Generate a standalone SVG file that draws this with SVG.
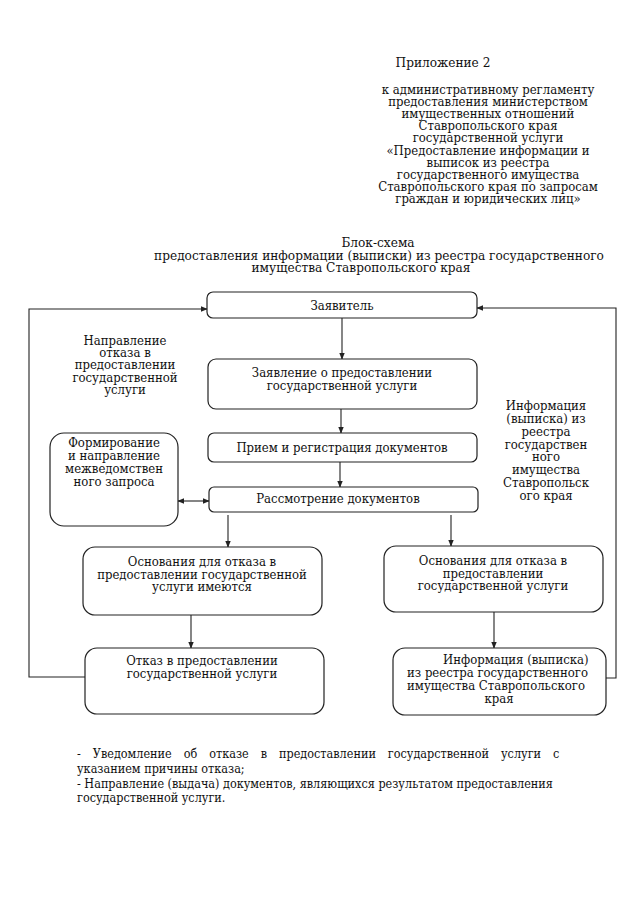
<svg xmlns="http://www.w3.org/2000/svg" width="639" height="905" viewBox="0 0 639 905" font-family="DejaVu Serif Condensed, DejaVu Serif, serif" font-stretch="condensed">
<style>
text{font-size:13px;fill:#111}
.c{text-anchor:middle}
.n{font-size:12.5px}
.t{font-size:13.5px}
.box{fill:#fff;stroke:#222;stroke-width:1.2}
.ln{fill:none;stroke:#222;stroke-width:1.1}
</style>
<defs>
<marker id="ah" viewBox="0 0 10 10" refX="9" refY="5" markerWidth="7" markerHeight="7" orient="auto-start-reverse" markerUnits="userSpaceOnUse">
<path d="M0,1 L10,5 L0,9 z" fill="#222"/>
</marker>
</defs>
<rect width="639" height="905" fill="#fff"/>

<g id="header">
<text x="443" y="67" class="c t">Приложение 2</text>
<text x="488" y="94" class="c">к административному регламенту</text>
<text x="488" y="106" class="c">предоставления министерством</text>
<text x="488" y="118" class="c">имущественных отношений</text>
<text x="488" y="130" class="c">Ставропольского края</text>
<text x="488" y="142" class="c">государственной услуги</text>
<text x="488" y="155" class="c">«Предоставление информации и</text>
<text x="488" y="167" class="c">выписок из реестра</text>
<text x="488" y="179" class="c">государственного имущества</text>
<text x="488" y="191" class="c">Ставропольского края по запросам</text>
<text x="488" y="203" class="c">граждан и юридических лиц»</text>
</g>

<g id="title">
<text x="378" y="247" class="c t">Блок-схема</text>
<text x="379" y="260" class="c t">предоставления информации (выписки) из реестра государственного</text>
<text x="361" y="272" class="c t">имущества Ставропольского края</text>
</g>

<g id="connectors">
<line class="ln" x1="342" y1="318" x2="342" y2="359" marker-end="url(#ah)"/>
<line class="ln" x1="341" y1="409" x2="341" y2="433" marker-end="url(#ah)"/>
<line class="ln" x1="340" y1="462" x2="340" y2="487" marker-end="url(#ah)"/>
<line class="ln" x1="178" y1="501" x2="209" y2="501" marker-start="url(#ah)" marker-end="url(#ah)"/>
<line class="ln" x1="228" y1="515" x2="228" y2="547" marker-end="url(#ah)"/>
<line class="ln" x1="451" y1="515" x2="451" y2="546" marker-end="url(#ah)"/>
<line class="ln" x1="191" y1="615" x2="191" y2="648" marker-end="url(#ah)"/>
<line class="ln" x1="494" y1="612" x2="494" y2="648" marker-end="url(#ah)"/>
<polyline class="ln" points="85,677 29,677 29,309 207,309" marker-end="url(#ah)"/>
<polyline class="ln" points="606,678 616,678 616,308 477,308" marker-end="url(#ah)"/>
</g>

<g id="n-applicant">
<rect class="box" x="207" y="292" width="270" height="26" rx="6"/>
<text x="342" y="310" class="c">Заявитель</text>
</g>

<g id="n-label-left">
<text x="125" y="345" class="c">Направление</text>
<text x="125" y="357" class="c">отказа в</text>
<text x="125" y="369" class="c">предоставлении</text>
<text x="125" y="382" class="c">государственной</text>
<text x="125" y="394" class="c">услуги</text>
</g>

<g id="n-application">
<rect class="box" x="208" y="359" width="269" height="50" rx="8"/>
<text x="342" y="377" class="c">Заявление о предоставлении</text>
<text x="342" y="390" class="c">государственной услуги</text>
</g>

<g id="n-label-right">
<text x="546" y="410" class="c">Информация</text>
<text x="546" y="423" class="c">(выписка) из</text>
<text x="546" y="436" class="c">реестра</text>
<text x="546" y="449" class="c">государствен</text>
<text x="546" y="461" class="c">ного</text>
<text x="546" y="474" class="c">имущества</text>
<text x="546" y="487" class="c">Ставропольск</text>
<text x="546" y="500" class="c">ого края</text>
</g>

<g id="n-reception">
<rect class="box" x="208" y="433" width="269" height="29" rx="6"/>
<text x="342" y="452" class="c">Прием и регистрация документов</text>
</g>

<g id="n-request">
<rect class="box" x="50" y="433" width="128" height="93" rx="14"/>
<text x="114" y="447" class="c">Формирование</text>
<text x="114" y="460" class="c">и направление</text>
<text x="114" y="473" class="c">межведомствен</text>
<text x="114" y="486" class="c">ного запроса</text>
</g>

<g id="n-review">
<rect class="box" x="209" y="487" width="269" height="25" rx="5"/>
<text x="338" y="503" class="c">Рассмотрение документов</text>
</g>

<g id="n-grounds-yes">
<rect class="box" x="83" y="547" width="239" height="68" rx="12"/>
<text x="202" y="566" class="c">Основания для отказа в</text>
<text x="202" y="579" class="c">предоставлении государственной</text>
<text x="202" y="591" class="c">услуги имеются</text>
</g>

<g id="n-grounds-no">
<rect class="box" x="384" y="546" width="219" height="66" rx="12"/>
<text x="493" y="565" class="c">Основания для отказа в</text>
<text x="493" y="578" class="c">предоставлении</text>
<text x="493" y="590" class="c">государственной услуги</text>
</g>

<g id="n-refusal">
<rect class="box" x="85" y="648" width="239" height="66" rx="12"/>
<text x="202" y="665" class="c">Отказ в предоставлении</text>
<text x="202" y="678" class="c">государственной услуги</text>
</g>

<g id="n-info">
<rect class="box" x="393" y="648" width="213" height="67" rx="12"/>
<text x="443" y="664">Информация (выписка)</text>
<text x="407" y="677">из реестра государственного</text>
<text x="407" y="690">имущества Ставропольского</text>
<text x="499" y="703" class="c">края</text>
</g>

<g id="notes">
<text class="n" x="77" y="758" word-spacing="8.4">- Уведомление об отказе в предоставлении государственной услуги с</text>
<text class="n" x="77" y="773">указанием причины отказа;</text>
<text class="n" x="77" y="788">- Направление (выдача) документов, являющихся результатом предоставления</text>
<text class="n" x="77" y="802">государственной услуги.</text>
</g>
</svg>
